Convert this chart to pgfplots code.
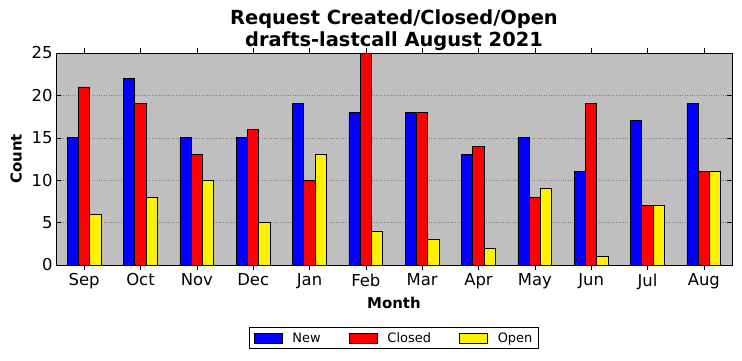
\documentclass[border=0pt]{standalone}
\usepackage{pgfplots}
\pgfplotsset{compat=1.18}
\usepackage{fontspec}
\setmainfont{DejaVu Sans}
\definecolor{bgray}{HTML}{BFBFBF}
\begin{document}
\begin{tikzpicture}
\useasboundingbox (-56bp,-96bp) rectangle (686bp,265bp);
\begin{axis}[
  scale only axis,
  width=676bp, height=212bp,
  at={(0,0)}, anchor=south west,
  xmin=-0.5, xmax=11.5, ymin=0, ymax=25,
  xtick={0,...,11},
  xticklabels={Sep,Oct,Nov,Dec,Jan,Feb,Mar,Apr,May,Jun,Jul,Aug},
  ytick={0,5,10,15,20,25},
  tick align=inside,
  major tick length=5bp,
  tick style={black, line width=0.6pt},
  xtick pos=both, ytick pos=both,
  axis background/.style={fill=bgray},
  axis line style={line width=0.8pt},
  ymajorgrids,
  grid style={dotted, gray, line width=0.5pt},
  ticklabel style={font=\fontsize{16.5}{18}\selectfont},
  /pgf/number format/assume math mode=true,
  title={Request Created/Closed/Open\\drafts-lastcall August 2021},
  title style={align=center, font=\bfseries\fontsize{19.5}{22.5}\selectfont, yshift=-7.5bp},
  xlabel={Month}, ylabel={Count},
  label style={font=\bfseries\fontsize{15}{17}\selectfont},
  ylabel style={yshift=3bp},
  xlabel style={yshift=-1bp},
  legend columns=3,
  legend style={at={(0.5,-0.345)}, anchor=center, draw=black, fill=white, line width=0.8pt,
    font=\fontsize{13}{15}\selectfont,
    /tikz/every odd column/.append style={column sep=8bp},
    /tikz/every even column/.append style={column sep=26bp},
    inner ysep=3bp, inner xsep=4bp},
  ybar, bar width=0.2,
  every axis plot/.append style={draw=black, line width=0.8pt,
    legend image code/.code={\draw[##1,line width=0.8pt] (0bp,-5bp) rectangle (28bp,5bp);}},
]
\addplot[fill=blue, bar shift=-0.2] coordinates {(0,15)(1,22)(2,15)(3,15)(4,19)(5,18)(6,18)(7,13)(8,15)(9,11)(10,17)(11,19)};
\addplot[fill=red, bar shift=0] coordinates {(0,21)(1,19)(2,13)(3,16)(4,10)(5,25)(6,18)(7,14)(8,8)(9,19)(10,7)(11,11)};
\addplot[fill=yellow, bar shift=0.2] coordinates {(0,6)(1,8)(2,10)(3,5)(4,13)(5,4)(6,3)(7,2)(8,9)(9,1)(10,7)(11,11)};
\legend{New,Closed,Open}
\end{axis}
\end{tikzpicture}
\end{document}
